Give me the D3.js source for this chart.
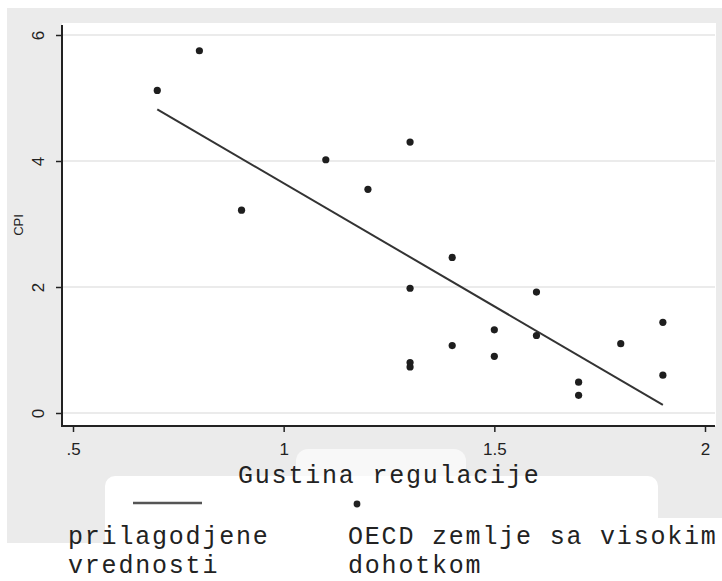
<!DOCTYPE html>
<html>
<head>
<meta charset="utf-8">
<script src="https://cdn.jsdelivr.net/npm/d3@7"></script>
<style>
  body { margin: 0; background: #fff; }
  svg { display: block; }
</style>
</head>
<body>
<div id="chart"></div>
<script>
// data
let regX = [0.7, 0.8, 0.9, 1.1, 1.2, 1.3, 1.3, 1.3, 1.3, 1.4, 1.4, 1.5, 1.5, 1.6, 1.6, 1.7, 1.7, 1.8, 1.9, 1.9];
let cpiY = [5.12, 5.75, 3.22, 4.02, 3.55, 4.3, 1.98, 0.8, 0.73, 2.47, 1.07, 1.32, 0.9, 1.92, 1.23, 0.49, 0.28, 1.1, 1.44, 0.6];
let fitX = [0.7, 1.9];
let fitY = [4.82, 0.13];
let xTicks = [0.5, 1, 1.5, 2];
let yTicks = [0, 2, 4, 6];
let xTitle = "Gustina regulacije";
let yTitle = "CPI";
let legendLine = ["prilagodjene", "vrednosti"];
let legendDot = ["OECD zemlje sa visokim", "dohotkom"];

let W = 722, H = 581;
// plot region (white box)
let plot = { left: 62, top: 23, right: 716, bottom: 426 };

let svg = d3.select("#chart").append("svg")
  .attr("width", W)
  .attr("height", H);

// outer grey background
svg.append("rect")
  .attr("x", 7).attr("y", 8)
  .attr("width", W - 7).attr("height", 535)
  .attr("fill", "#ebebeb");

// white patches of the legend area
svg.append("rect")
  .attr("x", 658).attr("y", 518)
  .attr("width", W - 658).attr("height", 30)
  .attr("fill", "#fff");
svg.append("rect")
  .attr("x", 296).attr("y", 449)
  .attr("width", 170).attr("height", 40)
  .attr("rx", 12)
  .attr("fill", "#f8f8f8");
svg.append("rect")
  .attr("x", 105).attr("y", 476)
  .attr("width", 553).attr("height", 72)
  .attr("rx", 10)
  .attr("fill", "#fff");

// plot area
svg.append("rect")
  .attr("x", plot.left).attr("y", plot.top)
  .attr("width", plot.right - plot.left).attr("height", plot.bottom - plot.top)
  .attr("fill", "#fff");

let x = d3.scaleLinear().domain([0.5, 2]).range([73, 705]);
let y = d3.scaleLinear().domain([0, 6]).range([413, 35]);

// grid lines
svg.append("g")
  .selectAll("line")
  .data(yTicks)
  .enter()
  .append("line")
  .attr("x1", plot.left)
  .attr("x2", plot.right - 1)
  .attr("y1", d => y(d))
  .attr("y2", d => y(d))
  .attr("stroke", "#e4e4e4")
  .attr("stroke-width", 1.5);

// fitted line
let line = d3.line()
  .x(d => x(d[0]))
  .y(d => y(d[1]));
svg.append("path")
  .datum(d3.zip(fitX, fitY))
  .attr("d", line)
  .attr("fill", "none")
  .attr("stroke", "#333")
  .attr("stroke-width", 2);

// points
svg.append("g")
  .selectAll("circle")
  .data(d3.zip(regX, cpiY))
  .enter()
  .append("circle")
  .attr("cx", d => x(d[0]))
  .attr("cy", d => y(d[1]))
  .attr("r", 3.6)
  .attr("fill", "#1e1e1e");

// axes
let sans = "'Liberation Sans', Arial, sans-serif";
let fmtX = d => d === 0.5 ? ".5" : String(d);
let xAxis = svg.append("g")
  .attr("transform", "translate(0," + plot.bottom + ")")
  .call(d3.axisBottom(x).tickValues(xTicks).tickFormat(fmtX)
    .tickSize(6).tickSizeOuter(0).tickPadding(11));
xAxis.select(".domain").remove();
xAxis.selectAll("line").attr("stroke", "#222").attr("stroke-width", 1.5);
xAxis.selectAll("text")
  .style("font-family", sans)
  .style("font-size", "17px")
  .attr("fill", "#222");

let yAxis = svg.append("g")
  .attr("transform", "translate(" + plot.left + ",0)")
  .call(d3.axisLeft(y).tickValues(yTicks).tickFormat(d3.format("d"))
    .tickSize(6).tickSizeOuter(0));
yAxis.select(".domain").remove();
yAxis.selectAll("line").attr("stroke", "#222").attr("stroke-width", 1.5);
yAxis.selectAll("text")
  .attr("x", null)
  .attr("dy", null)
  .attr("transform", "translate(-18,0) rotate(-90)")
  .attr("text-anchor", "middle")
  .style("font-family", sans)
  .style("font-size", "17px")
  .attr("fill", "#222");

// axis lines
svg.append("line")
  .attr("x1", plot.left).attr("x2", plot.left)
  .attr("y1", 25).attr("y2", plot.bottom + 1)
  .attr("stroke", "#222").attr("stroke-width", 2);
svg.append("line")
  .attr("x1", plot.left).attr("x2", plot.right - 1)
  .attr("y1", plot.bottom).attr("y2", plot.bottom)
  .attr("stroke", "#222").attr("stroke-width", 2);

// axis titles
svg.append("text")
  .attr("transform", "translate(23,225) rotate(-90)")
  .attr("text-anchor", "middle")
  .style("font-family", sans)
  .style("font-size", "13px")
  .attr("fill", "#222")
  .text(yTitle);

let mono = "'Liberation Mono', 'Courier New', monospace";
function monoText(sel) {
  sel.style("font-family", mono)
    .style("font-size", "25px")
    .style("letter-spacing", "1.8px")
    .attr("fill", "#222");
}

svg.append("text")
  .attr("x", 238).attr("y", 483)
  .call(monoText)
  .text(xTitle);

// legend keys
svg.append("line")
  .attr("x1", 133).attr("x2", 202)
  .attr("y1", 503).attr("y2", 503)
  .attr("stroke", "#555").attr("stroke-width", 2.5);
svg.append("circle")
  .attr("cx", 357).attr("cy", 504)
  .attr("r", 3.4)
  .attr("fill", "#222");

// legend labels
svg.append("g")
  .selectAll("text")
  .data(legendLine)
  .enter()
  .append("text")
  .attr("x", 68)
  .attr("y", (d, i) => 544 + i * 29)
  .call(monoText)
  .text(d => d);

svg.append("g")
  .selectAll("text")
  .data(legendDot)
  .enter()
  .append("text")
  .attr("x", 348)
  .attr("y", (d, i) => 544 + i * 29)
  .call(monoText)
  .text(d => d);
</script>
</body>
</html>
